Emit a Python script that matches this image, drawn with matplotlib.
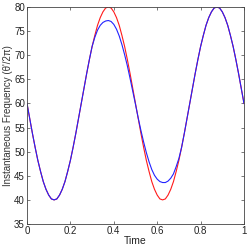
import matplotlib
matplotlib.use("Agg")
import matplotlib.pyplot as plt

plt.rcParams["font.family"] = ["Liberation Sans", "DejaVu Sans"]

# tiempo (paso 0.0125)
tiempo = [i * 0.0125 for i in range(81)]

# frecuencia original (roja)
frec_roja = [
    60.0, 56.9, 53.8, 50.9, 48.2, 45.9, 43.8, 42.2, 41.0, 40.2,
    40.0, 40.2, 41.0, 42.2, 43.8, 45.9, 48.2, 50.9, 53.8, 56.9,
    60.0, 63.1, 66.2, 69.1, 71.8, 74.1, 76.2, 77.8, 79.0, 79.8,
    80.0, 79.8, 79.0, 77.8, 76.2, 74.1, 71.8, 69.1, 66.2, 63.1,
    60.0, 56.9, 53.8, 50.9, 48.2, 45.9, 43.8, 42.2, 41.0, 40.2,
    40.0, 40.2, 41.0, 42.2, 43.8, 45.9, 48.2, 50.9, 53.8, 56.9,
    60.0, 63.1, 66.2, 69.1, 71.8, 74.1, 76.2, 77.8, 79.0, 79.8,
    80.0, 79.8, 79.0, 77.8, 76.2, 74.1, 71.8, 69.1, 66.2, 63.1,
    60.0,
]

# frecuencia estimada (azul)
frec_azul = [
    60.0, 56.9, 53.8, 50.9, 48.2, 45.9, 43.8, 42.2, 41.0, 40.2,
    40.0, 40.2, 41.0, 42.2, 43.8, 45.9, 48.2, 50.9, 53.8, 56.9,
    60.0, 63.1, 66.2, 69.1, 71.8, 73.7, 75.2, 76.2, 76.8, 77.1,
    77.2, 77.0, 76.4, 75.4, 74.0, 72.2, 70.1, 67.8, 65.2, 62.5,
    59.8, 57.0, 54.4, 52.0, 49.8, 47.9, 46.3, 45.1, 44.3, 43.8,
    43.6, 43.6, 43.9, 44.5, 45.4, 46.9, 48.6, 50.9, 53.8, 56.9,
    60.0, 63.1, 66.2, 69.1, 71.8, 74.1, 76.2, 77.8, 79.0, 79.8,
    80.0, 79.8, 79.0, 77.8, 76.2, 74.1, 71.8, 69.1, 66.2, 63.1,
    60.0,
]

fig = plt.figure(figsize=(2.49, 2.47), dpi=100)
ax = fig.add_axes([0.1084, 0.0931, 0.8715, 0.8785])

ax.plot(tiempo, frec_roja, color="#ff1a1a", lw=0.8)
ax.plot(tiempo, frec_azul, color="#2222ff", lw=0.8)

ax.set_xlim(0, 1)
ax.set_ylim(35, 80)
ax.set_xticks([0, 0.2, 0.4, 0.6, 0.8, 1])
ax.set_xticklabels(["0", "0.2", "0.4", "0.6", "0.8", "1"])
ax.set_yticks(range(35, 81, 5))

ax.tick_params(direction="in", length=2.5, width=0.5, labelsize=7,
               top=True, right=True, pad=1.5, color="#444444",
               labelcolor="#222222")
for s in ax.spines.values():
    s.set_linewidth(0.6)
    s.set_color("#444444")

ax.set_xlabel("Time", fontsize=7.5, labelpad=0, color="#222222")
ax.set_ylabel("Instantaneous Frequency (\u03b8'/2\u03c0)", fontsize=7,
              labelpad=1, color="#333333")

fig.savefig("out.png", dpi=100)
